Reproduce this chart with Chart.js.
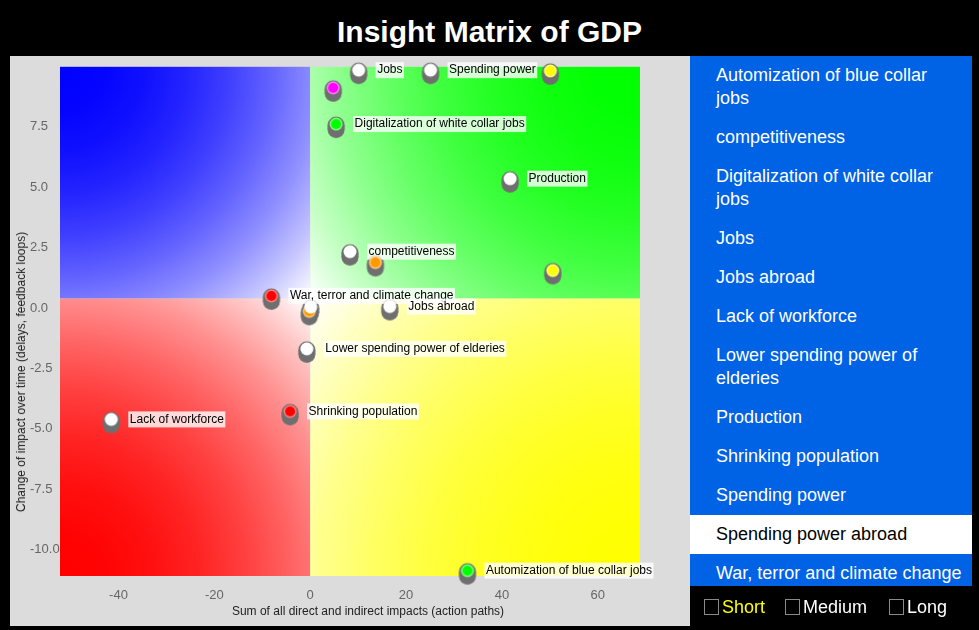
<!DOCTYPE html>
<html>
<head>
<meta charset="utf-8">
<title>Insight Matrix of GDP</title>
<script src="https://cdn.jsdelivr.net/npm/chart.js@4.4.1/dist/chart.umd.min.js"></script>
<style>
  body { margin: 0; background: #000; width: 979px; height: 630px; overflow: hidden; position: relative;
         font-family: "Liberation Sans", Arial, Helvetica, sans-serif; }
  #title { position: absolute; left: 0; top: 7px; width: 979px; height: 50px; line-height: 50px;
           text-align: center; color: #fff; font-size: 30px; font-weight: bold; }
  #plot { position: absolute; left: 10px; top: 56px; width: 680px; height: 570px; background: #dcdcdc; }
  .axis-title { position: absolute; font-size: 12px; color: #222; white-space: nowrap; }
  #xTitle { left: 368px; top: 611px; transform: translate(-50%, -50%); }
  #yTitle { left: 21px; top: 372px; transform: translate(-50%, -50%) rotate(-90deg); }
  #list { position: absolute; left: 690px; top: 56px; width: 282px; height: 530px; overflow: hidden; background: #0062e4; }
  .item { padding: 8px 8px 8px 26px; font-size: 18px; line-height: 23px; color: #fff; }
  .item.sel { background: #fff; color: #000; }
  .opt { position: absolute; top: 597px; height: 20px; font-size: 18px; line-height: 20px; color: #fff; display: flex; align-items: center; }
  .opt .box { width: 15px; height: 16px; box-sizing: border-box; border: 1px solid #8a8a8a; background: #000; margin-right: 3px; }
</style>
</head>
<body>
<div id="title">Insight Matrix of GDP</div>
<div id="plot"><canvas id="myChart"></canvas></div>
<div class="axis-title" id="xTitle">Sum of all direct and indirect impacts (action paths)</div>
<div class="axis-title" id="yTitle">Change of impact over time (delays, feedback loops)</div>
<div id="list"></div>
<script>
// points of the matrix (names empty where the reference shows no label)
const names = ["Jobs", "Spending power", "", "", "Digitalization of white collar jobs", "Production",
    "competitiveness", "", "", "War, terror and climate change", "", "", "Jobs abroad",
    "Lower spending power of elderies", "Shrinking population", "Lack of workforce",
    "Automization of blue collar jobs"];
const xValues = [10.1, 25.1, 50.1, 4.8, 5.4, 41.7, 8.3, 13.6, 50.6, -8.1, -0.2, 0.1, 16.6, -0.7, -4.2, -41.5, 32.8];
const yValues = [9.84, 9.84, 9.81, 9.11, 7.61, 5.35, 2.33, 1.88, 1.55, 0.5, -0.14, 0.04, 0.06, -1.69, -4.28, -4.61, -10.87];
const pointColors = ["#ffffff", "#ffffff", "#ffff00", "#ff00ff", "#00ff00", "#ffffff",
    "#ffffff", "#ff9900", "#ffff00", "#ff0000", "#ff9900", "#ffffff", "#ffffff",
    "#ffffff", "#ff0000", "#ffffff", "#00ff00"];

const listItems = ["Automization of blue collar jobs", "competitiveness", "Digitalization of white collar jobs",
    "Jobs", "Jobs abroad", "Lack of workforce", "Lower spending power of elderies", "Production",
    "Shrinking population", "Spending power", "Spending power abroad", "War, terror and climate change"];
const selectedItem = "Spending power abroad";
const horizons = ["Short", "Medium", "Long"];

const xTicks = { min: -52.2, max: 68.8, step: 20 };
const yTicks = { min: -11.09, max: 9.98, step: 2.5 };
const split = { x: 0, y: 0.39 };

// side list and horizon checkboxes
const list = document.getElementById("list");
listItems.forEach(t => {
    const d = document.createElement("div");
    d.className = "item" + (t === selectedItem ? " sel" : "");
    d.textContent = t;
    list.appendChild(d);
});
const optLeft = [704, 785, 889];
horizons.forEach((h, i) => {
    const o = document.createElement("div");
    o.className = "opt";
    o.style.left = optLeft[i] + "px";
    o.innerHTML = '<span class="box"></span><span>' + h + '</span>';
    if (i === 0) o.lastChild.style.color = "#ffff00";
    document.body.appendChild(o);
});

function lighter(hex, f) {
    const n = parseInt(hex.slice(1), 16);
    const c = [(n >> 16) & 255, (n >> 8) & 255, n & 255].map(v => Math.round(v + (255 - v) * f));
    return "rgb(" + c.join(",") + ")";
}

const discCache = {};
function discImage(color) {
    if (discCache[color]) return discCache[color];
    const c = document.createElement("canvas");
    c.width = 20; c.height = 20;
    const g = c.getContext("2d");
    g.fillStyle = lighter(color, 0.5);
    g.beginPath(); g.arc(10, 10, 6.5, 0, Math.PI * 2); g.fill();
    g.fillStyle = color;
    g.beginPath(); g.arc(10, 10, 5, 0, Math.PI * 2); g.fill();
    discCache[color] = c;
    return c;
}

function shadowImage() {
    const c = document.createElement("canvas");
    c.width = 20; c.height = 30;
    const g = c.getContext("2d");
    g.fillStyle = "#6f6f6f";
    g.beginPath(); g.arc(10, 16, 8.5, 0, Math.PI * 2); g.fill();
    g.beginPath(); g.arc(10, 20.5, 8.5, 0, Math.PI * 2); g.fill();
    g.fillRect(1.5, 16, 17, 4.5);
    return c;
}
const shadow = shadowImage();

// each quadrant fades from its outer corner to white at the split point
const quadrantBg = {
    id: "quadrantBg",
    beforeDatasetsDraw(chart) {
        const { ctx, chartArea: a, scales } = chart;
        const xm = scales.x.getPixelForValue(split.x);
        const ym = scales.y.getPixelForValue(split.y);
        const quads = [
            [a.left, a.top, "#0000ff"],
            [a.right, a.top, "#00ff00"],
            [a.left, a.bottom, "#ff0000"],
            [a.right, a.bottom, "#ffff00"]
        ];
        ctx.save();
        quads.forEach(([cx, cy, col]) => {
            const r = Math.hypot(xm - cx, ym - cy);
            const gr = ctx.createRadialGradient(cx, cy, 0, cx, cy, r);
            for (let i = 0; i <= 8; i++) {
                const t = i / 8;
                gr.addColorStop(t, lighter(col, t * t));
            }
            ctx.fillStyle = gr;
            ctx.fillRect(Math.min(cx, xm), Math.min(cy, ym), Math.abs(xm - cx), Math.abs(ym - cy));
        });
        ctx.restore();
    }
};

// labels go between the shadow layer and the discs
const pointLabels = {
    id: "pointLabels",
    afterDatasetDraw(chart, args) {
        if (args.index !== 1) return;
        const ctx = chart.ctx;
        const meta = chart.getDatasetMeta(0);
        ctx.save();
        ctx.font = "12px 'Liberation Sans', Arial, sans-serif";
        ctx.textBaseline = "middle";
        meta.data.forEach((pt, i) => {
            if (!names[i]) return;
            const w = ctx.measureText(names[i]).width;
            ctx.fillStyle = "rgba(255,255,255,0.8)";
            ctx.fillRect(pt.x + 17, pt.y - 8, w + 3, 16);
            ctx.fillStyle = "#000";
            ctx.fillText(names[i], pt.x + 18.5, pt.y);
        });
        ctx.restore();
    }
};

const points = xValues.map((x, i) => ({ x: x, y: yValues[i] }));

new Chart("myChart", {
    type: "scatter",
    data: {
        datasets: [{
            data: points,
            order: 0,
            clip: false,
            radius: 9,
            pointStyle: pointColors.map(discImage)
        }, {
            data: points,
            order: 1,
            clip: false,
            radius: 9,
            pointStyle: shadow
        }]
    },
    options: {
        responsive: true,
        maintainAspectRatio: false,
        animation: false,
        events: [],
        layout: { padding: { left: 20, top: 9, right: 50, bottom: 0 } },
        plugins: { legend: { display: false }, tooltip: { enabled: false } },
        scales: {
            x: {
                min: xTicks.min, max: xTicks.max,
                grid: { display: false, drawTicks: false },
                border: { display: false },
                ticks: { stepSize: xTicks.step, includeBounds: false, padding: 12, color: "#666",
                         font: { size: 13, family: "'Liberation Sans', Arial, sans-serif" } },
                afterFit(s) { s.height = 50; }
            },
            y: {
                min: yTicks.min, max: yTicks.max,
                grid: { display: false, drawTicks: false },
                border: { display: false },
                ticks: { stepSize: yTicks.step, includeBounds: false, crossAlign: "far", color: "#666",
                         font: { size: 13, family: "'Liberation Sans', Arial, sans-serif" },
                         callback: v => v.toFixed(1) },
                afterFit(s) { s.width = 30; }
            }
        }
    },
    plugins: [quadrantBg, pointLabels]
});
</script>
</body>
</html>
